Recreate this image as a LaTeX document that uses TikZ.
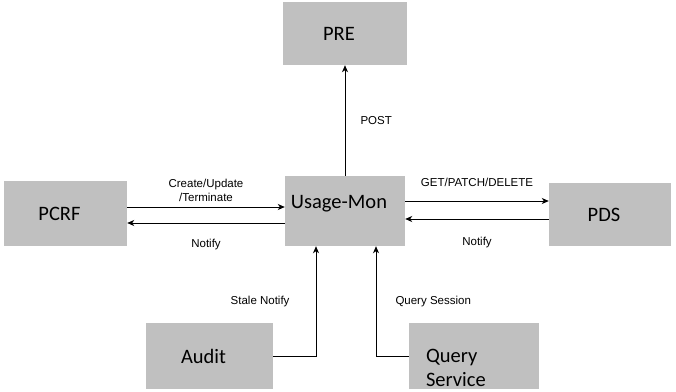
\documentclass[tikz,border=0pt]{standalone}
\usepackage{fontspec}
\newfontfamily\blkfont{Carlito}
\newfontfamily\lblfont{Liberation Sans}
\usepackage{xcolor}
\usepackage{tikz}
\usetikzlibrary{arrows.meta,positioning}
\definecolor{boxgray}{HTML}{C0C0C0}

\begin{document}
\begin{tikzpicture}[x=1pt,y=-1pt,
  blk/.style={fill=boxgray,inner sep=0pt,execute at begin node=\hspace*{-12pt},
              font=\blkfont\fontsize{20.5}{24.6}\selectfont},
  lbl/.style={font=\lblfont\fontsize{11.5}{14}\selectfont,inner sep=1pt,align=center},
  arr/.style={-{Stealth[length=7pt,width=6pt,inset=2pt]},line width=1pt},
]
\useasboundingbox (0,0) rectangle (676,391);

\node[blk,minimum width=124pt,minimum height=63pt] (pre)   at (345,33.5)  {PRE};
\node[blk,minimum width=123pt,minimum height=65pt] (pcrf)  at (65.5,213.5) {PCRF};
\node[blk,minimum width=120pt,minimum height=70pt] (umon)  at (345,211)   {\raisebox{3pt}[0pt][0pt]{Usage-Mon}};
\node[blk,minimum width=122pt,minimum height=63pt] (pds)   at (610,214.5) {PDS};
\node[blk,minimum width=127pt,minimum height=66pt] (audit) at (209.5,356) {Audit};
\node[blk,minimum width=130pt,minimum height=66pt] (qsvc)  at (474,356)
  {\raisebox{-17pt}[0pt][0pt]{\parbox{84pt}{Query\\Service}}};

% requests and replies
\draw[arr] (umon.north) -- node[lbl,right=14pt] {POST} (pre.south);
\draw[arr] ([yshift=6.5pt]pcrf.east) -- node[lbl,above=4pt] {Create/Update\\/Terminate}
  ([yshift=6.5pt]pcrf.east -| umon.west);
\draw[arr] ([yshift=-9.5pt]pcrf.east -| umon.west) -- node[lbl,below=15pt] {Notify}
  ([yshift=-9.5pt]pcrf.east);
\draw[arr] ([yshift=10pt]umon.east) -- node[lbl,above=13pt] {GET/PATCH/DELETE}
  ([yshift=10pt]umon.east -| pds.west);
\draw[arr] ([yshift=-8pt]umon.east -| pds.west) -- node[lbl,below=17pt] {Notify}
  ([yshift=-8pt]umon.east);

% elbow connectors from below
\draw[arr] (audit.east) -| node[lbl,pos=0.75,left=25pt] {Stale Notify}
  ([xshift=-29pt]umon.south);
\draw[arr] (qsvc.west) -| node[lbl,pos=0.75,right=18pt] {Query Session}
  ([xshift=31pt]umon.south);
\end{tikzpicture}
\end{document}
